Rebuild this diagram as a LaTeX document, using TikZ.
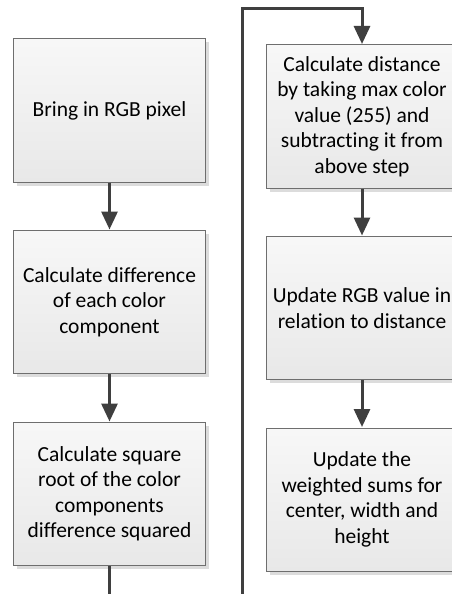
\documentclass[tikz,border=0pt]{standalone}
\usepackage{fontspec}
\setmainfont{Carlito}[Ligatures={NoCommon}]
\usetikzlibrary{arrows.meta,shadows}
\definecolor{linegray}{HTML}{3F3F3F}
\definecolor{edgegray}{HTML}{6E6E6E}
\definecolor{shadowgray}{HTML}{DCDCDC}
\tikzset{
  stepbox/.style={draw=edgegray, line width=1pt, rectangle,
    minimum width=192pt, minimum height=143pt, inner sep=0pt,
    top color=white!97!black, bottom color=white!91!black,
    drop shadow={shadow xshift=3.5pt, shadow yshift=-3.5pt, fill=shadowgray, opacity=1},
    align=center, font=\fontsize{21.5}{25.5}\selectfont, text=black},
  flow/.style={draw=linegray, line width=3pt},
  flowarrow/.style={flow, -{Triangle[length=18pt,width=16pt]}, shorten >=0.5pt}
}
\begin{document}
\begin{tikzpicture}[x=1pt,y=-1pt]
  \clip (0,0) rectangle (452,594);
  \fill[white] (0,0) rectangle (452,594);

  % left column
  \node[stepbox] (bring) at (109.5,110.5) {Bring in RGB pixel};
  \node[stepbox] (diff)  at (109.5,302)   {Calculate difference\\of each color\\component};
  \node[stepbox] (sqrt)  at (109.5,494)   {Calculate square\\root of the color\\components\\difference squared};

  % right column
  \node[stepbox] (dist)   at (362,116.5) {Calculate distance\\by taking max color\\value (255) and\\subtracting it from\\above step};
  \node[stepbox] (update) at (362,308)   {Update RGB value in\\relation to distance};
  \node[stepbox] (sums)   at (362,499.5) {Update the\\weighted sums for\\center, width and\\height};

  % free ends leaving the page at the bottom
  \coordinate (leftout) at (bring.center |- 0,600);
  \coordinate (loopin)  at (242,600);
  \coordinate (looptop) at (242,9);

  \draw[flowarrow] (bring) -- (diff);
  \draw[flowarrow] (diff) -- (sqrt);
  \draw[flow] (sqrt) -- (leftout);

  \draw[flowarrow] (loopin) -- (looptop) -| (dist.north);
  \draw[flowarrow] (dist) -- (update);
  \draw[flowarrow] (update) -- (sums);
\end{tikzpicture}
\end{document}
